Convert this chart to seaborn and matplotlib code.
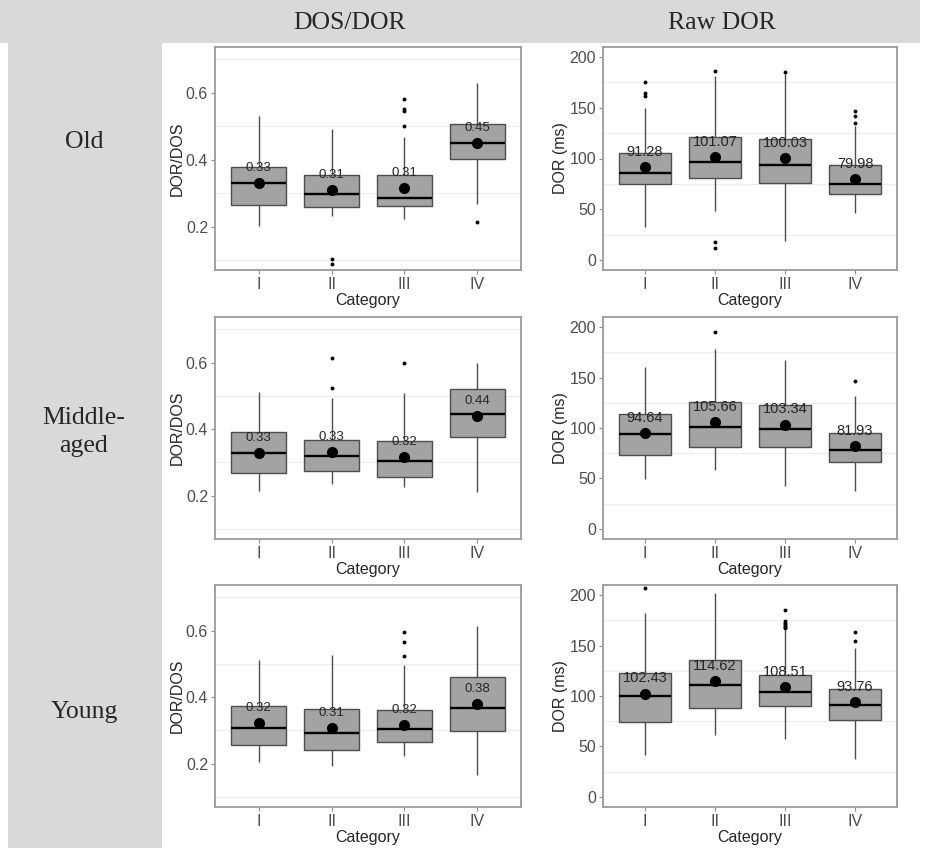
import numpy as np
import pandas as pd
import matplotlib
matplotlib.use("Agg")
import matplotlib.pyplot as plt
from matplotlib.patches import Rectangle
from matplotlib.ticker import FixedLocator
import seaborn as sns

# categories and layout labels
categories = ["I", "II", "III", "IV"]
row_names = ["Old", "Middle-\naged", "Young"]
col_names = ["DOS/DOR", "Raw DOR"]

# --- Old, DOR/DOS : whisker low, Q1, median, Q3, whisker high ---
old_ratio_wlo = [0.203, 0.232, 0.222, 0.267]
old_ratio_q1 = [0.263, 0.257, 0.260, 0.403]
old_ratio_med = [0.330, 0.298, 0.285, 0.451]
old_ratio_q3 = [0.377, 0.355, 0.353, 0.507]
old_ratio_whi = [0.532, 0.492, 0.468, 0.628]
old_ratio_mean = [0.329, 0.309, 0.314, 0.450]
old_ratio_out = [[], [0.103, 0.088], [0.580, 0.553, 0.547, 0.500], [0.213]]

# --- Old, raw DOR (ms) ---
old_raw_wlo = [32.7, 48.6, 18.8, 46.3]
old_raw_q1 = [74.4, 81.0, 75.7, 64.8]
old_raw_med = [85.3, 96.2, 93.9, 74.7]
old_raw_q3 = [105.8, 121.3, 119.0, 93.2]
old_raw_whi = [149.4, 181.0, 183.0, 131.9]
old_raw_mean = [91.28, 101.07, 100.03, 79.98]
old_raw_out = [[175.9, 164.3, 162.0], [186.0, 17.9, 11.9], [185.5], [146.8, 141.8, 135.5]]

# --- Middle-aged, DOR/DOS ---
mid_ratio_wlo = [0.214, 0.234, 0.225, 0.210]
mid_ratio_q1 = [0.267, 0.275, 0.257, 0.377]
mid_ratio_med = [0.329, 0.320, 0.304, 0.447]
mid_ratio_q3 = [0.390, 0.368, 0.364, 0.520]
mid_ratio_whi = [0.512, 0.493, 0.509, 0.598]
mid_ratio_mean = [0.329, 0.330, 0.316, 0.440]
mid_ratio_out = [[], [0.613, 0.525], [0.598], []]

# --- Middle-aged, raw DOR (ms) ---
mid_raw_wlo = [49.0, 58.3, 43.0, 38.0]
mid_raw_q1 = [73.0, 81.3, 80.7, 66.7]
mid_raw_med = [94.0, 100.7, 99.3, 78.0]
mid_raw_q3 = [114.0, 125.7, 123.0, 95.3]
mid_raw_whi = [160.7, 178.0, 167.3, 131.7]
mid_raw_mean = [94.64, 105.66, 103.34, 81.93]
mid_raw_out = [[], [194.7], [], [146.7]]

# --- Young, DOR/DOS ---
young_ratio_wlo = [0.205, 0.192, 0.223, 0.165]
young_ratio_q1 = [0.257, 0.240, 0.265, 0.299]
young_ratio_med = [0.308, 0.293, 0.303, 0.368]
young_ratio_q3 = [0.373, 0.365, 0.360, 0.462]
young_ratio_whi = [0.512, 0.528, 0.497, 0.615]
young_ratio_mean = [0.322, 0.307, 0.316, 0.380]
young_ratio_out = [[], [], [0.595, 0.565, 0.523], []]

# --- Young, raw DOR (ms) ---
young_raw_wlo = [42.0, 61.3, 57.0, 37.7]
young_raw_q1 = [74.5, 87.7, 89.7, 75.8]
young_raw_med = [100.0, 110.9, 104.0, 90.7]
young_raw_q3 = [122.3, 135.7, 120.7, 107.3]
young_raw_whi = [182.3, 201.7, 165.5, 148.0]
young_raw_mean = [102.43, 114.62, 108.51, 93.76]
young_raw_out = [[206.7], [], [185.0, 174.0, 172.5, 171.0, 169.5, 168.0, 167.0], [163.6, 155.0]]

ratio_ticks = [0.2, 0.4, 0.6]
ratio_minor = [0.1, 0.3, 0.5, 0.7]
raw_ticks = [0, 50, 100, 150, 200]
raw_minor = [25, 75, 125, 175]

sns.set_style("white")
plt.rcParams['font.family'] = ['Liberation Sans', 'DejaVu Sans']

W, H = 935, 848
fig = plt.figure(figsize=(W / 100, H / 100), dpi=100)
fig.patch.set_facecolor("white")

# gray table header and first column
fig.add_artist(Rectangle((0, 1 - 43 / H), 920 / W, 43 / H, transform=fig.transFigure,
                         facecolor="#d9d9d9", edgecolor="none", zorder=0))
fig.add_artist(Rectangle((8 / W, 0), (162 - 8) / W, (H - 43) / H, transform=fig.transFigure,
                         facecolor="#d9d9d9", edgecolor="none", zorder=0))

serif = ['Liberation Serif', 'DejaVu Serif']
fig.text(350 / W, 1 - 23 / H, col_names[0], ha="center", va="center", fontsize=18.5, family=serif)
fig.text(722 / W, 1 - 23 / H, col_names[1], ha="center", va="center", fontsize=18.5, family=serif)
for name, yc in zip(row_names, [142, 432, 712]):
    fig.text(84 / W, 1 - yc / H, name, ha="center", va="center", fontsize=18.5,
             family=serif, linespacing=1.35)


def px_axes(left, top, right, bottom):
    return fig.add_axes([left / W, 1 - bottom / H, (right - left) / W, (bottom - top) / H])


def draw_panel(ax, wlo, q1, med, q3, whi, means, outliers, ylim, yticks, minor, ylabel, lab_size):
    # five numbers per category -> with whis=(0, 100) seaborn draws exactly these
    box_df = pd.DataFrame({
        "Category": np.repeat(categories, 5),
        "value": np.column_stack([wlo, q1, med, q3, whi]).ravel(),
    })
    sns.boxplot(data=box_df, x="Category", y="value", order=categories, whis=(0, 100),
                width=0.75, color="#a3a3a3", linecolor="#4d4d4d", linewidth=1.0,
                saturation=1, showfliers=False, showcaps=False,
                medianprops={"color": "black", "linewidth": 1.7}, ax=ax)

    out_df = pd.DataFrame([(c, v) for c, vals in zip(categories, outliers) for v in vals],
                          columns=["Category", "value"])
    if len(out_df):
        sns.stripplot(data=out_df, x="Category", y="value", order=categories, jitter=False,
                      color="black", size=2.8, linewidth=0, zorder=5, ax=ax)

    mean_df = pd.DataFrame({"Category": categories, "value": means})
    sns.stripplot(data=mean_df, x="Category", y="value", order=categories, jitter=False,
                  color="black", size=8, linewidth=0, zorder=6, ax=ax)
    for i, m in enumerate(means):
        ax.annotate(f"{m:.2f}", xy=(i, m), xytext=(0, 11), textcoords="offset points",
                    ha="center", va="center", fontsize=lab_size, color="#262626", zorder=7)

    ax.set_xlim(-0.6, 3.6)
    ax.set_ylim(*ylim)
    ax.set_yticks(yticks)
    ax.yaxis.set_minor_locator(FixedLocator(minor))
    ax.grid(False)
    ax.grid(which="minor", axis="y", color="#ededed", linewidth=0.8)
    ax.set_axisbelow(True)
    for s in ax.spines.values():
        s.set_visible(True)
        s.set_color("#9a9a9a")
        s.set_linewidth(1.3)
    ax.tick_params(axis="both", which="major", length=3, width=0.8, color="#8c8c8c",
                   labelcolor="#4d4d4d", labelsize=11.5, pad=2, bottom=True, left=True)
    ax.tick_params(axis="y", which="minor", length=0)
    ax.set_xlabel("Category", fontsize=11.5, color="#262626", labelpad=1)
    ax.set_ylabel(ylabel, fontsize=11.5, color="#262626", labelpad=1)


rows_top_bottom = [(47, 270), (317, 539), (585, 807)]
ratio_sets = [
    (old_ratio_wlo, old_ratio_q1, old_ratio_med, old_ratio_q3, old_ratio_whi, old_ratio_mean, old_ratio_out),
    (mid_ratio_wlo, mid_ratio_q1, mid_ratio_med, mid_ratio_q3, mid_ratio_whi, mid_ratio_mean, mid_ratio_out),
    (young_ratio_wlo, young_ratio_q1, young_ratio_med, young_ratio_q3, young_ratio_whi, young_ratio_mean, young_ratio_out),
]
raw_sets = [
    (old_raw_wlo, old_raw_q1, old_raw_med, old_raw_q3, old_raw_whi, old_raw_mean, old_raw_out),
    (mid_raw_wlo, mid_raw_q1, mid_raw_med, mid_raw_q3, mid_raw_whi, mid_raw_mean, mid_raw_out),
    (young_raw_wlo, young_raw_q1, young_raw_med, young_raw_q3, young_raw_whi, young_raw_mean, young_raw_out),
]

for (top, bottom), rs, ws in zip(rows_top_bottom, ratio_sets, raw_sets):
    ax_l = px_axes(215, top, 521, bottom)
    draw_panel(ax_l, *rs, ylim=(0.07, 0.737), yticks=ratio_ticks, minor=ratio_minor,
               ylabel="DOR/DOS", lab_size=9.5)
    ax_r = px_axes(603, top, 897, bottom)
    draw_panel(ax_r, *ws, ylim=(-10, 210), yticks=raw_ticks, minor=raw_minor,
               ylabel="DOR (ms)", lab_size=10.5)

fig.savefig("out.png", dpi=100, facecolor="white")
